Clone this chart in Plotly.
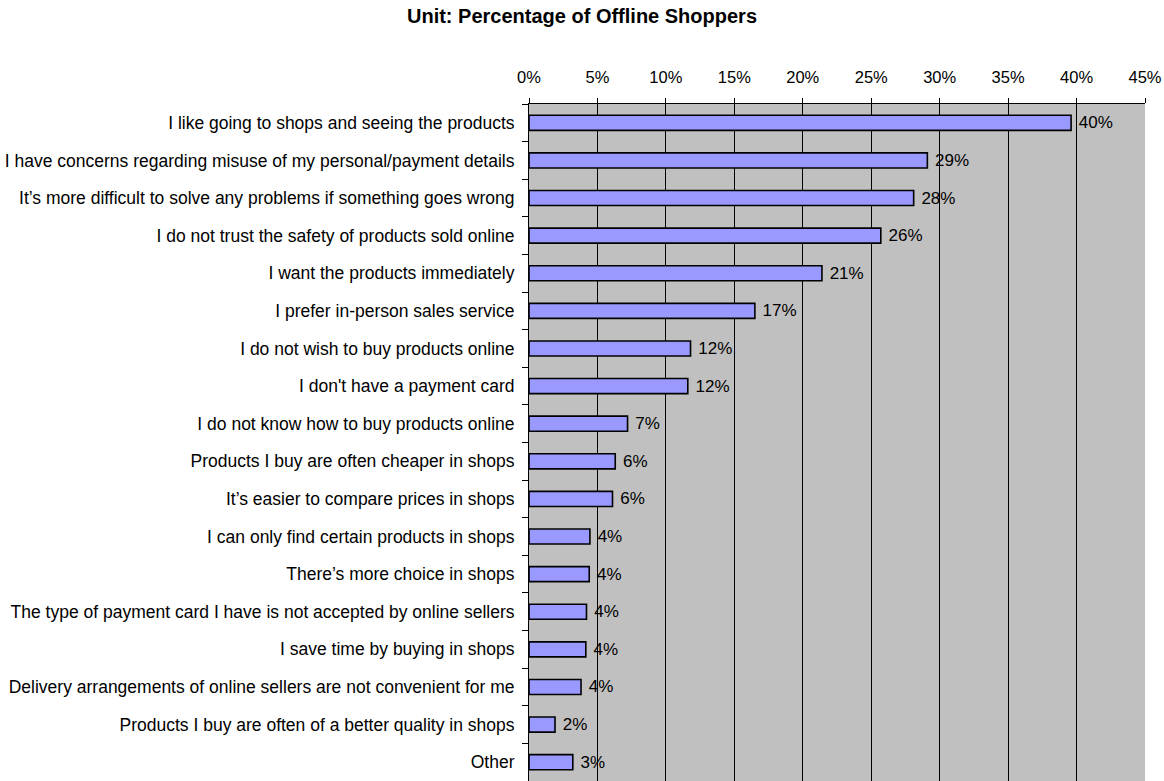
import plotly.graph_objects as go

categories = [
    "I like going to shops and seeing the products",
    "I have concerns regarding misuse of my personal/payment details",
    "It\u2019s more difficult to solve any problems if something goes wrong",
    "I do not trust the safety of products sold online",
    "I want the products immediately",
    "I prefer in-person sales service",
    "I do not wish to buy products online",
    "I don't have a payment card",
    "I do not know how to buy products online",
    "Products I buy are often cheaper in shops",
    "It\u2019s easier to compare prices in shops",
    "I can only find certain products in shops",
    "There\u2019s more choice in shops",
    "The type of payment card I have is not accepted by online sellers",
    "I save time by buying in shops",
    "Delivery arrangements of online sellers are not convenient for me",
    "Products I buy are often of a better quality in shops",
    "Other",
]
values = [39.6, 29.1, 28.1, 25.7, 21.4, 16.5, 11.8, 11.6, 7.2, 6.3, 6.1, 4.45, 4.4, 4.2, 4.15, 3.8, 1.9, 3.2]
labels = ["40%", "29%", "28%", "26%", "21%", "17%", "12%", "12%", "7%", "6%", "6%", "4%", "4%", "4%", "4%", "4%", "2%", "3%"]
x_ticks = [0, 5, 10, 15, 20, 25, 30, 35, 40, 45]

FONT = "Liberation Sans, Arial, sans-serif"

fig = go.Figure(
    go.Bar(
        y=categories,
        x=values,
        orientation="h",
        text=labels,
        texttemplate=" %{text}",
        textposition="outside",
        constraintext="none",
        cliponaxis=False,
        textfont=dict(family=FONT, size=17, color="black"),
        marker=dict(color="#9999FF", line=dict(color="black", width=1.6)),
        width=0.4,
        hoverinfo="skip",
    )
)

fig.update_layout(
    width=1164,
    height=781,
    margin=dict(l=529, r=19, t=104, b=0),
    paper_bgcolor="white",
    plot_bgcolor="#C0C0C0",
    showlegend=False,
    title=dict(
        text="<b>Unit: Percentage of Offline Shoppers</b>",
        x=0.5,
        xanchor="center",
        y=1 - 16 / 781,
        yanchor="middle",
        yref="container",
        font=dict(family=FONT, size=20, color="black"),
    ),
    font=dict(family=FONT, size=17, color="black"),
)

fig.update_xaxes(
    side="top",
    range=[0, 45],
    tickvals=x_ticks,
    ticktext=[f"{v}%" for v in x_ticks],
    showgrid=True,
    gridcolor="black",
    gridwidth=1,
    zeroline=False,
    showline=True,
    linecolor="black",
    linewidth=1,
    ticks="outside",
    ticklen=5,
    tickcolor="black",
    tickfont=dict(family=FONT, size=16.5, color="black"),
    ticklabelstandoff=8,
    fixedrange=True,
)
fig.update_yaxes(
    autorange="reversed",
    showgrid=False,
    showline=True,
    linecolor="black",
    linewidth=1,
    ticks="outside",
    tickson="boundaries",
    ticklen=6,
    tickcolor="black",
    tickfont=dict(family=FONT, size=17.5, color="black"),
    ticklabelstandoff=10,
    fixedrange=True,
)

fig.write_html(
    "out.html",
    config={"displayModeBar": False},
    post_script="document.body.style.margin='0';document.body.style.overflow='hidden';",
)
